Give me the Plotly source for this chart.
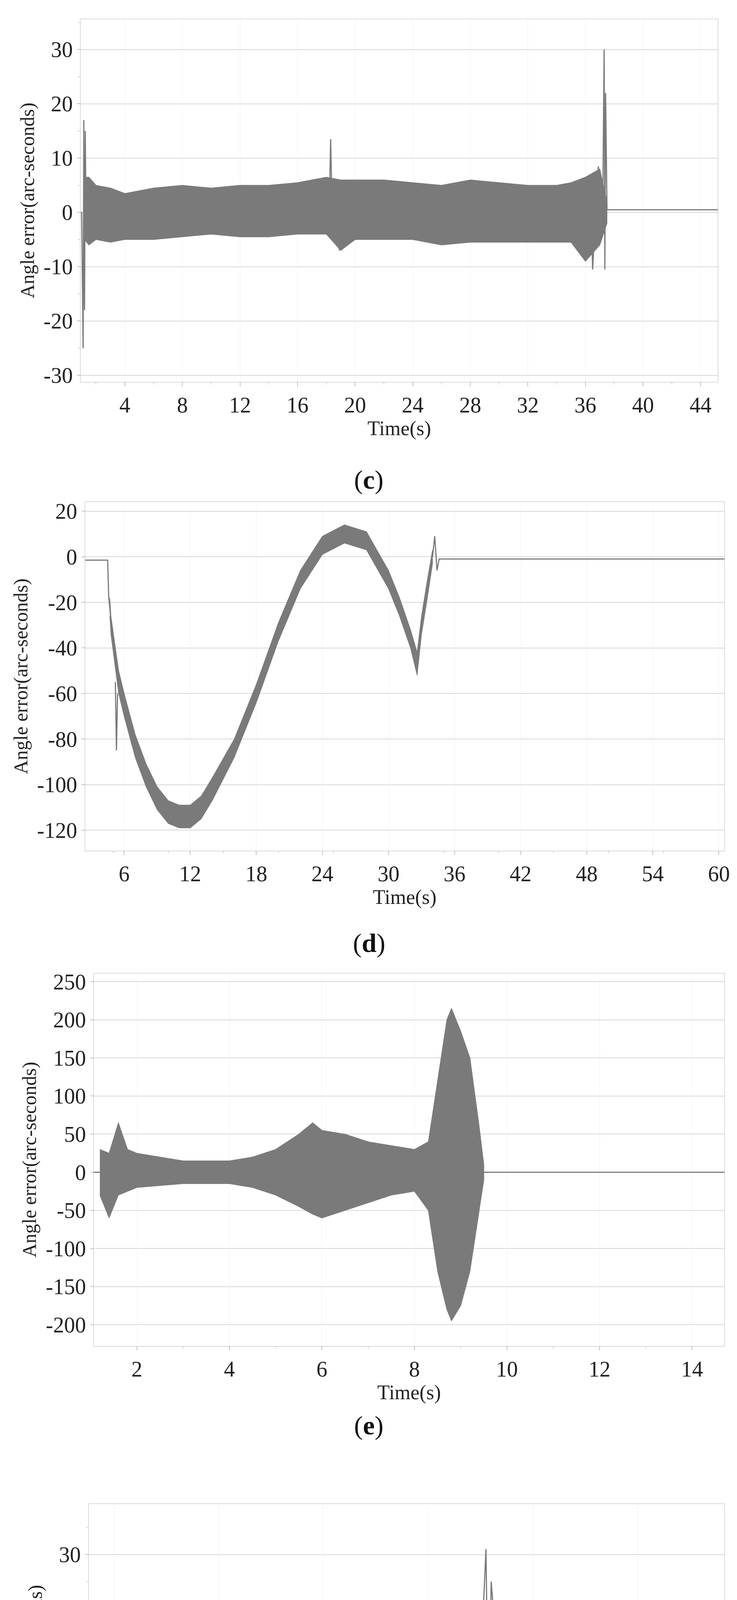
import plotly.graph_objects as go

# ---- panel (c) ----
c_t = [1.2, 1.5, 2, 3, 4, 6, 8, 10, 12, 14, 16, 17, 18, 19, 20, 22, 24, 26, 28, 30, 32, 34, 35, 36, 37, 37.5]
c_up = [6.5, 6.5, 5, 4.5, 3.5, 4.5, 5, 4.5, 5, 5, 5.5, 6, 6.5, 6, 6, 6, 5.5, 5, 6, 5.5, 5, 5, 5.5, 6.5, 8, 2]
c_lo = [-5, -6, -5, -5.5, -5, -5, -4.5, -4, -4.5, -4.5, -4, -4, -4, -7, -5, -5, -5, -6, -5.5, -5.5, -5.5, -5.5, -5.5, -9, -6, -2]
c_spk_t = [0.95, 1.0, 1.1, 1.15, 1.2, 1.25, 1.3, None, 18.2, 18.3, 18.4, None, 18.8, 18.9, 19.0, None,
           36.4, 36.5, 36.9, 37.2, 37.3, 37.35, 37.4, 37.5, 37.6, 45.2]
c_spk_y = [0, 0, -25, 17, -18, 15, 0, None, 0, 13.5, 0, None, 0, -7, 0, None,
           0, -10.5, 8.5, 0, 30, -10.5, 22, 0.5, 0.5, 0.5]

# ---- panel (d) ----
d_t = [4.7, 4.8, 5.5, 6, 7, 8, 9, 10, 11, 12, 13, 14, 16, 18, 20, 22, 24, 26, 28, 30, 31, 32, 32.6, 33, 33.5, 34]
d_mid = [-22, -30, -55, -65, -83, -96, -106, -112, -114, -114, -110, -102, -84, -60, -33, -10, 5, 10, 7, -10, -22, -36, -47, -30, -15, 0]
d_halfw = [4, 4, 5, 5, 5, 5, 5, 5, 5, 5, 5, 5, 4, 4, 4, 4, 4, 4, 4, 4, 4, 4, 5, 4, 4, 3]
d_line_t = [2.45, 4.5, 4.6, 4.75, None, 5.2, 5.3, 5.4, None, 34.0, 34.2, 34.4, 34.6, 34.8, 60.5]
d_line_y = [-1.5, -1.5, -18, -25, None, -55, -85, -60, None, 0, 9, -6, -1, -1, -1]

# ---- panel (e) ----
e_t = [1.2, 1.4, 1.6, 1.8, 2, 3, 4, 4.5, 5, 5.5, 5.8, 6, 6.5, 7, 7.5, 8, 8.3, 8.5, 8.7, 8.8, 9, 9.2, 9.4, 9.5]
e_up = [30, 25, 65, 30, 25, 15, 15, 20, 30, 50, 65, 55, 50, 40, 35, 30, 40, 120, 200, 215, 185, 150, 60, 10]
e_lo = [-30, -60, -30, -25, -20, -15, -15, -20, -30, -45, -55, -60, -50, -40, -30, -25, -50, -130, -180, -195, -175, -130, -50, -10]
e_line_t = [1.07, 1.2, None, 9.5, 14.7]
e_line_y = [0, 0, None, 0, 0]

# ---- panel (f) ----
f_t = [2.3, 2.6, 3, 3.5, 4, 4.5, 5, 5.4, 5.5, 6, 6.5, 7, 7.5, 8, 8.5, 8.8, 9.0]
f_up = [2, 3, 4, 5, 6, 7, 8, 8, 11, 8, 7, 6, 5, 4, 3, 3, 5]
f_lo = [-9, -9, -8, -7, -6, -5, -4, -3, -3, -4, -5, -6, -7, -8, -9, -14, -12]
f_spk_t = [1.52, 1.75, 1.8, 1.9, 1.95, 2.0, 2.05, 2.1, 2.2, 2.25, 2.3, None,
           8.95, 9.05, 9.1, 9.15, 9.2, 9.3, 9.4, 9.5, 9.6, 9.7, 11, 13.65]
f_spk_y = [0.5, 0.5, -15, -8, -23, -5, -17, -10, -20, 10, -5, None,
           -16, 20, 31, -5, 25, 12, -8, -3, 0.7, 0.7, 0.5, 0.3]

x_ticks = [list(range(4, 45, 4)), list(range(6, 61, 6)), list(range(2, 15, 2)), list(range(2, 13, 2))]
y_ticks = [list(range(-30, 31, 10)), list(range(-120, 21, 20)), list(range(-200, 251, 50)), list(range(-20, 31, 10))]
x_ranges = [[0.93, 45.2], [2.45, 60.5], [1.07, 14.7], [1.52, 13.65]]
y_ranges = [[-31.2, 35.6], [-129, 24], [-228, 261], [-27, 39.4]]
x_doms = [[0.106, 0.977], [0.112, 0.986], [0.124, 0.986], [0.117, 0.986]]
y_doms = [[0.8108, 0.9937], [0.5744, 0.7502], [0.3246, 0.5126], [0.0647, 0.2450]]
labels = ["c", "d", "e", "f"]
label_y = [1177, 2408, 3689, 5021]

GREY = "#7a7a7a"
fig = go.Figure()


def band(t, up, lo, k):
    fig.add_trace(go.Scatter(x=t + t[::-1], y=up + lo[::-1], fill="toself", mode="lines",
                             fillcolor=GREY, line=dict(color=GREY, width=1.5),
                             xaxis=f"x{k}", yaxis=f"y{k}", showlegend=False))


def line(t, y, k):
    fig.add_trace(go.Scatter(x=t, y=y, mode="lines", line=dict(color=GREY, width=3),
                             xaxis=f"x{k}", yaxis=f"y{k}", showlegend=False, connectgaps=False))


band(c_t, c_up, c_lo, "")
line(c_spk_t, c_spk_y, "")
d_up = [m + h for m, h in zip(d_mid, d_halfw)]
d_lo = [m - h for m, h in zip(d_mid, d_halfw)]
band(d_t, d_up, d_lo, 2)
line(d_line_t, d_line_y, 2)
band(e_t, e_up, e_lo, 3)
line(e_line_t, e_line_y, 3)
band(f_t, f_up, f_lo, 4)
line(f_spk_t, f_spk_y, 4)

font = dict(family="Liberation Serif", size=56, color="#222")
for i in range(4):
    sx = "" if i == 0 else str(i + 1)
    fig.update_layout(**{
        f"xaxis{sx}": dict(domain=x_doms[i], range=x_ranges[i], tickvals=x_ticks[i], anchor=f"y{sx}",
                           showgrid=True, gridcolor="#f0f0f0", showline=True, linecolor="#bbb", mirror=True,
                           ticks="outside", ticklen=10, tickcolor="#888", tickfont=font, zeroline=False,
                           minor=dict(ticks="outside", ticklen=5, tickcolor="#aaa", nticks=5),
                           title=dict(text="Time(s)", font=dict(family="Liberation Serif", size=52, color="#222"), standoff=6)),
        f"yaxis{sx}": dict(domain=y_doms[i], range=y_ranges[i], tickvals=y_ticks[i],
                           ticktext=[str(v).replace("\u2212", "-") for v in y_ticks[i]], anchor=f"x{sx}",
                           showgrid=True, gridcolor="#d8d8d8", gridwidth=2, showline=True, linecolor="#bbb",
                           mirror=True, ticks="outside", ticklen=8, tickcolor="#888", tickfont=font,
                           zeroline=False, minor=dict(ticks="outside", ticklen=5, tickcolor="#aaa", nticks=3),
                           title=dict(text="Angle error(arc-seconds)", font=dict(family="Liberation Serif", size=50, color="#222"), standoff=8)),
    })
    fig.add_annotation(x=0.5, y=1 - label_y[i] / 5101, xref="paper", yref="paper", showarrow=False,
                       text=f"(<b>{labels[i]}</b>)", font=dict(family="Liberation Serif", size=68, color="#111"))

fig.update_layout(width=1886, height=5101, margin=dict(l=0, r=0, t=0, b=0),
                  plot_bgcolor="white", paper_bgcolor="white")
fig.write_html("out.html")
